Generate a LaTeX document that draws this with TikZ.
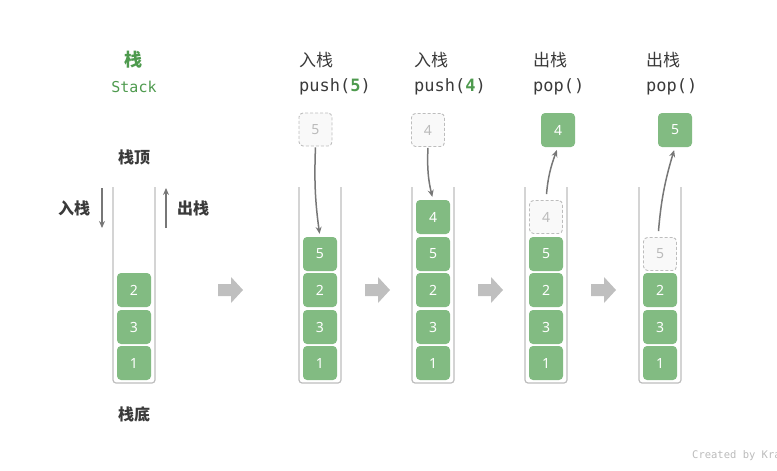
\documentclass[tikz,border=0pt]{standalone}
\usepackage{fontspec}
\setmainfont{Noto Sans}
\newfontfamily\cjk{Noto Sans CJK SC}
\newfontfamily\mono{DejaVu Sans Mono}
\usetikzlibrary{arrows.meta}
\definecolor{blk}{HTML}{82BB82}
\definecolor{ghostline}{HTML}{BDBDBD}
\definecolor{ghostfill}{HTML}{F9F9F9}
\definecolor{ghosttext}{HTML}{BBBBBB}
\definecolor{wallc}{HTML}{BDBDBD}
\definecolor{arrc}{HTML}{777777}
\definecolor{bigc}{HTML}{BFBFBF}
\definecolor{hdrc}{HTML}{3A3A3A}
\definecolor{greentxt}{HTML}{4E9A4E}
\tikzset{
  blockn/.style={fill=blk, rounded corners=4pt, minimum width=34pt, minimum height=34pt, text=white, inner sep=0pt, font=\fontsize{14}{14}\selectfont},
  ghost/.style={draw=ghostline, line width=0.9pt, dash pattern=on 3pt off 2pt, fill=ghostfill, rounded corners=4pt, minimum width=33pt, minimum height=33pt, text=ghosttext, inner sep=0pt, font=\fontsize{14}{14}\selectfont},
  wall/.style={draw=wallc, line width=1.2pt, rounded corners=3pt},
  arr/.style={draw=arrc, line width=1.5pt, -{Stealth[length=7pt,width=6pt]}},
  hdr/.style={anchor=west, text=hdrc, inner sep=0pt, font=\cjk\fontsize{17}{17}\selectfont},
  hdrm/.style={anchor=west, text=hdrc, inner sep=0pt, font=\mono\fontsize{17}{17}\selectfont},
  lbl/.style={text=hdrc, inner sep=0pt, font=\cjk\bfseries\fontsize{16}{16}\selectfont},
}
\begin{document}
\begin{tikzpicture}[x=1pt,y=-1pt]
\useasboundingbox (0,0) rectangle (777,471);
\clip (0,0) rectangle (777,471);
% stack walls
\foreach \c in {134,320,433,546,660}{
  \draw[wall] (\c-21,187) -- (\c-21,383) -- (\c+21,383) -- (\c+21,187);
}
% big gray arrows
\foreach \x in {218,365,478,591}{
  \fill[bigc] (\x,284) -- (\x+13,284) -- (\x+13,277) -- (\x+25,290) -- (\x+13,303) -- (\x+13,296) -- (\x,296) -- cycle;
}
% stack 1
\node[text=greentxt, inner sep=0pt, font=\cjk\bfseries\fontsize{18}{18}\selectfont] (t1) at (133,60) {栈};
\node[text=greentxt, inner sep=0pt, font=\mono\fontsize{15}{15}\selectfont] (t2) at (134,87) {Stack};
\node[lbl] (top) at (134,157) {栈顶};
\node[lbl] (bot) at (134,414) {栈底};
\node[lbl] (in) at (74,208) {入栈};
\node[lbl] (out) at (193,208) {出栈};
\coordinate (ina) at (102,188);
\coordinate (inb) at (102,228);
\coordinate (outa) at (166,228);
\coordinate (outb) at (166,188);
\draw[arr] (ina) -- (inb);
\draw[arr] (outa) -- (outb);
\node[blockn] (a2) at (134,290) {2};
\node[blockn] (a3) at (134,327) {3};
\node[blockn] (a1) at (134,363) {1};
% stack 2: push(5)
\node[hdr] (h2a) at (299,60) {入栈};
\node[hdrm] (h2b) at (299,87) {push(\textcolor{greentxt}{\bfseries 5})};
\node[ghost] (g2) at (315.5,129.5) {5};
\node[blockn] (b5) at (320,254) {5};
\node[blockn] (b2) at (320,290) {2};
\node[blockn] (b3) at (320,327) {3};
\node[blockn] (b1) at (320,363) {1};
\draw[arr, shorten <=1pt, shorten >=3pt] (g2.south) to[bend right=5] (b5.north);
% stack 3: push(4)
\node[hdr] (h3a) at (414,60) {入栈};
\node[hdrm] (h3b) at (414,87) {push(\textcolor{greentxt}{\bfseries 4})};
\node[ghost] (g3) at (428,130) {4};
\node[blockn] (c4) at (433,217) {4};
\node[blockn] (c5) at (433,254) {5};
\node[blockn] (c2) at (433,290) {2};
\node[blockn] (c3) at (433,327) {3};
\node[blockn] (c1) at (433,363) {1};
\draw[arr, shorten <=1pt, shorten >=3pt] (g3.south) to[bend right=8] (c4.north);
% stack 4: pop()
\node[hdr] (h4a) at (533,60) {出栈};
\node[hdrm] (h4b) at (533,87) {pop()};
\node[blockn] (p4) at (558,130) {4};
\node[ghost] (d4) at (546,217) {4};
\node[blockn] (d5) at (546,254) {5};
\node[blockn] (d2) at (546,290) {2};
\node[blockn] (d3) at (546,327) {3};
\node[blockn] (d1) at (546,363) {1};
\draw[arr, shorten <=6pt, shorten >=3pt] (d4.north) to[bend left=8] (p4.south);
% stack 5: pop()
\node[hdr] (h5a) at (646,60) {出栈};
\node[hdrm] (h5b) at (646,87) {pop()};
\node[blockn] (p5) at (675,130) {5};
\node[ghost] (e5) at (660,254) {5};
\node[blockn] (e2) at (660,290) {2};
\node[blockn] (e3) at (660,327) {3};
\node[blockn] (e1) at (660,363) {1};
\draw[arr, shorten <=6pt, shorten >=3pt] ([xshift=-2pt]e5.north) to[bend left=6] (p5.south);
% credit
\node[anchor=west, text=ghosttext, inner sep=0pt, font=\mono\fontsize{10.5}{10.5}\selectfont] (cr) at (692,456) {Created by Krahets};
\end{tikzpicture}
\end{document}
